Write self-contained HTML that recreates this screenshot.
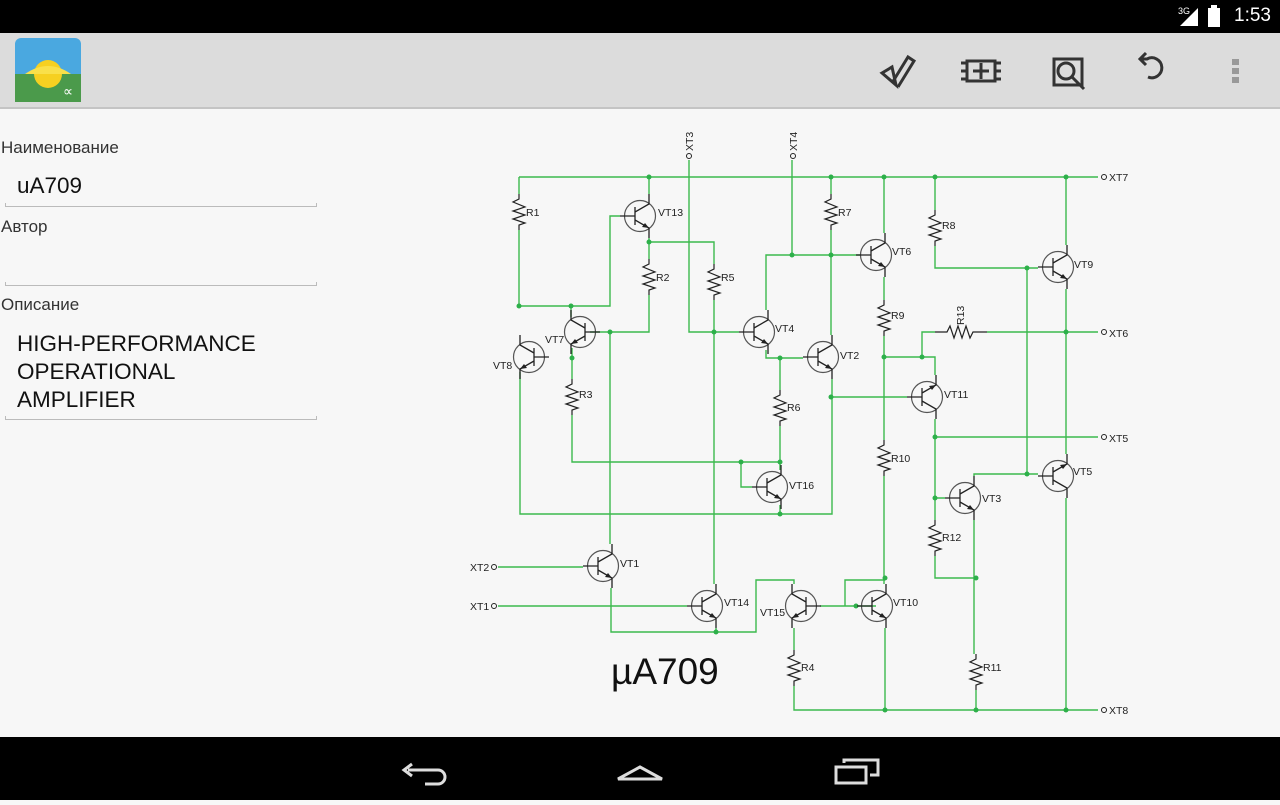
<!DOCTYPE html>
<html><head><meta charset="utf-8"><style>
body{margin:0;width:1280px;height:800px;overflow:hidden;background:#f7f7f7;font-family:"Liberation Sans","DejaVu Sans",sans-serif;position:relative}
.sb{position:absolute;left:0;top:0;width:1280px;height:33px;background:#000;color:#fff}
.ab{position:absolute;left:0;top:33px;width:1280px;height:74px;background:#dcdcdc;border-bottom:2px solid #c4c4c4}
.nb{position:absolute;left:0;top:737px;width:1280px;height:63px;background:#000}
.lbl{position:absolute;left:1px;font-size:17px;color:#333}
.val{position:absolute;left:17px;font-size:22.5px;color:#111;line-height:28px}
.ul{position:absolute;left:5px;width:310px;border-bottom:1px solid #bbb;border-left:1px solid #bbb;border-right:1px solid #bbb;height:3px}
</style></head><body>
<div class="sb"><span style="position:absolute;right:9px;top:5px;font-size:19px">1:53</span>
<svg style="position:absolute;left:1178px;top:4px" width="50" height="24"><text x="0" y="10" font-size="9" fill="#fff" font-family="Liberation Sans">3G</text><polygon points="2,22 20,22 20,4" fill="#fff"/><rect x="30" y="4" width="12" height="19" fill="#fff"/><rect x="33" y="1" width="6" height="3" fill="#fff"/></svg></div>
<div class="ab">
<svg style="position:absolute;left:15px;top:5px" width="66" height="64"><rect x="0" y="0" width="66" height="64" rx="6" fill="#4aa8e0"/><rect x="0" y="36" width="66" height="28" fill="#4b9a4b"/><circle cx="33" cy="36" r="14" fill="#f6d021"/><path d="M10 36 Q33 20 56 36 Z" fill="#f9e04a"/><text x="48" y="58" font-size="14" fill="#fff" font-style="italic">∝</text></svg>
<svg style="position:absolute;left:870px;top:12px" width="400" height="50">
<g stroke="#333" stroke-width="3" fill="none"><path d="M12 28 L22 22 L26 40 Z"/><path d="M22 38 L38 12 L44 16 L28 42"/><rect x="97" y="16" width="28" height="20"/><path d="M103 26h16M111 18v16M91 18h6M91 26h6M91 34h6M125 18h6M125 26h6M125 34h6"/><rect x="184" y="14" width="28" height="26"/><circle cx="196" cy="26" r="8"/><path d="M202 32 L214 44"/><path d="M278 32 A10 10 0 1 0 277 14 L270 14 M276 8 L270 14 L276 20"/></g>
<g fill="#999"><rect x="362" y="14" width="7" height="6"/><rect x="362" y="23" width="7" height="6"/><rect x="362" y="32" width="7" height="6"/></g></svg></div>
<div class="lbl" style="top:138px">Наименование</div>
<div class="val" style="top:172px">uA709</div>
<div class="ul" style="top:203px"></div>
<div class="lbl" style="top:217px">Автор</div>
<div class="ul" style="top:282px"></div>
<div class="lbl" style="top:295px">Описание</div>
<div class="val" style="top:330px">HIGH-PERFORMANCE<br>OPERATIONAL<br>AMPLIFIER</div>
<div class="ul" style="top:416px"></div>
<svg style="position:absolute;left:0;top:0" width="1280" height="800">
<defs>
<g id="t"><circle r="15.5" fill="none" stroke="#555" stroke-width="1.2"/><g stroke="#222" stroke-width="1.3" fill="none"><path d="M-20 0H-5M-5 -9V9M-5 -4L9 -12V-22M-5 4L9 12V22"/></g><polygon points="9,12 2,11 5,7" fill="#222"/></g>
<g id="r"><path d="M0 -18V-13L-6 -10L6 -5L-6 -1L6 3L-6 7L6 11L0 13V18" fill="none" stroke="#222" stroke-width="1.2"/></g>
<g id="rh"><path d="M-26 0H-14L-11 -6L-7 6L-3 -6L1 6L5 -6L9 6L12 0H26" fill="none" stroke="#222" stroke-width="1.2"/></g>
</defs>
<g stroke="#3cba4e" stroke-width="1.4" fill="none">
<path d="M519 177H1098"/>
<path d="M519 177V194M519 230V306H610V216H620M571 306V317"/>
<path d="M649 177V194M649 238V259M649 295V332H590M610 332V544"/>
<path d="M649 242H714V264M714 300V584"/>
<path d="M572 348V379M572 415V462H780V470M741 462V487H752"/>
<path d="M520 372V514H832V379"/>
<path d="M689 160V332H739M766 310V255H860M792 160V255"/>
<path d="M766 350V358H803M780 358V390M780 426V462M780 505V514"/>
<path d="M831 194V177M831 230V335"/>
<path d="M831 397H907"/>
<path d="M884 177V233M884 277V300M884 336V440M884 476V584"/>
<path d="M884 357H935V375M922 357V332H935M987 332H1098"/>
<path d="M935 177V210M935 246V268H1038M1027 268V474H1038M1066 177V245M1066 289V454"/>
<path d="M935 419V520M935 437H1098M935 498H945M974 476V474H1027M974 520V654M935 556V578H976"/>
<path d="M1066 498V710"/>
<path d="M498 567H583M498 606H687M611 588V632H756V580H794V584M716 628V632"/>
<path d="M820 606H876M845 606V580H885M794 628V650M794 686V710H1098M885 628V710M976 690V710"/>
</g>
<g fill="#2db04a"><circle cx="649" cy="177" r="2.5"/><circle cx="831" cy="177" r="2.5"/><circle cx="884" cy="177" r="2.5"/><circle cx="935" cy="177" r="2.5"/><circle cx="1066" cy="177" r="2.5"/><circle cx="519" cy="306" r="2.5"/><circle cx="571" cy="306" r="2.5"/><circle cx="649" cy="242" r="2.5"/><circle cx="610" cy="332" r="2.5"/><circle cx="572" cy="358" r="2.5"/><circle cx="714" cy="332" r="2.5"/><circle cx="792" cy="255" r="2.5"/><circle cx="831" cy="255" r="2.5"/><circle cx="780" cy="358" r="2.5"/><circle cx="831" cy="397" r="2.5"/><circle cx="741" cy="462" r="2.5"/><circle cx="780" cy="462" r="2.5"/><circle cx="780" cy="514" r="2.5"/><circle cx="884" cy="357" r="2.5"/><circle cx="922" cy="357" r="2.5"/><circle cx="1027" cy="268" r="2.5"/><circle cx="1066" cy="332" r="2.5"/><circle cx="935" cy="437" r="2.5"/><circle cx="935" cy="498" r="2.5"/><circle cx="1027" cy="474" r="2.5"/><circle cx="976" cy="578" r="2.5"/><circle cx="885" cy="578" r="2.5"/><circle cx="716" cy="632" r="2.5"/><circle cx="856" cy="606" r="2.5"/><circle cx="885" cy="710" r="2.5"/><circle cx="976" cy="710" r="2.5"/><circle cx="1066" cy="710" r="2.5"/></g>
<use href="#t" x="640" y="216"/><use href="#t" transform="translate(580,332) scale(-1,1)"/><use href="#t" transform="translate(529,357) scale(-1,1)"/>
<use href="#t" x="759" y="332"/><use href="#t" x="823" y="357"/><use href="#t" x="876" y="255"/><use href="#t" x="1058" y="267"/>
<use href="#t" transform="translate(927,397) scale(1,-1)"/><use href="#t" x="772" y="487"/><use href="#t" x="965" y="498"/><use href="#t" transform="translate(1058,476) scale(1,-1)"/>
<use href="#t" x="603" y="566"/><use href="#t" x="707" y="606"/><use href="#t" transform="translate(801,606) scale(-1,1)"/><use href="#t" x="877" y="606"/>
<use href="#r" x="519" y="212"/><use href="#r" x="649" y="277"/><use href="#r" x="714" y="282"/><use href="#r" x="572" y="397"/><use href="#r" x="780" y="408"/><use href="#r" x="831" y="212"/><use href="#r" x="884" y="318"/><use href="#r" x="935" y="228"/><use href="#r" x="884" y="458"/><use href="#r" x="935" y="538"/><use href="#r" x="976" y="672"/><use href="#r" x="794" y="668"/><use href="#rh" x="961" y="332"/>
<g fill="none" stroke="#222" stroke-width="1"><circle cx="689" cy="156" r="2.5"/><circle cx="793" cy="156" r="2.5"/><circle cx="1104" cy="177" r="2.5"/><circle cx="1104" cy="332" r="2.5"/><circle cx="1104" cy="437" r="2.5"/><circle cx="1104" cy="710" r="2.5"/><circle cx="494" cy="567" r="2.5"/><circle cx="494" cy="606" r="2.5"/></g>
<g font-size="10.5" fill="#222" font-family="Liberation Sans">
<text x="526" y="216">R1</text><text x="656" y="281">R2</text><text x="721" y="281">R5</text><text x="579" y="398">R3</text><text x="787" y="411">R6</text><text x="838" y="216">R7</text><text x="891" y="319">R9</text><text x="942" y="229">R8</text><text x="891" y="462">R10</text><text x="942" y="541">R12</text><text x="983" y="671">R11</text><text x="801" y="671">R4</text>
<text x="658" y="216">VT13</text><text x="545" y="343">VT7</text><text x="493" y="369">VT8</text><text x="775" y="332">VT4</text><text x="840" y="359">VT2</text><text x="892" y="255">VT6</text><text x="1074" y="268">VT9</text><text x="944" y="398">VT11</text><text x="789" y="489">VT16</text><text x="982" y="502">VT3</text><text x="1073" y="475">VT5</text><text x="620" y="567">VT1</text><text x="724" y="606">VT14</text><text x="760" y="616">VT15</text><text x="893" y="606">VT10</text>
<text x="1109" y="181">XT7</text><text x="1109" y="337">XT6</text><text x="1109" y="442">XT5</text><text x="1109" y="714">XT8</text><text x="470" y="571">XT2</text><text x="470" y="610">XT1</text>
<text transform="translate(693,151) rotate(-90)">XT3</text><text transform="translate(797,151) rotate(-90)">XT4</text><text transform="translate(964,325) rotate(-90)">R13</text>
</g>
<text x="611" y="684" font-size="37" fill="#111" font-family="Liberation Sans">µA709</text>
</svg>
<div class="nb"><svg width="1280" height="63"><g stroke="#ddd" stroke-width="3" fill="none"><path d="M408 33H438A7 7 0 0 1 438 47H425M412 27L404 33L412 39"/><path d="M618 42L640 30L662 42Z"/><rect x="836" y="30" width="30" height="16"/><path d="M844 26V23H878V38H870"/></g></svg></div>
</body></html>
